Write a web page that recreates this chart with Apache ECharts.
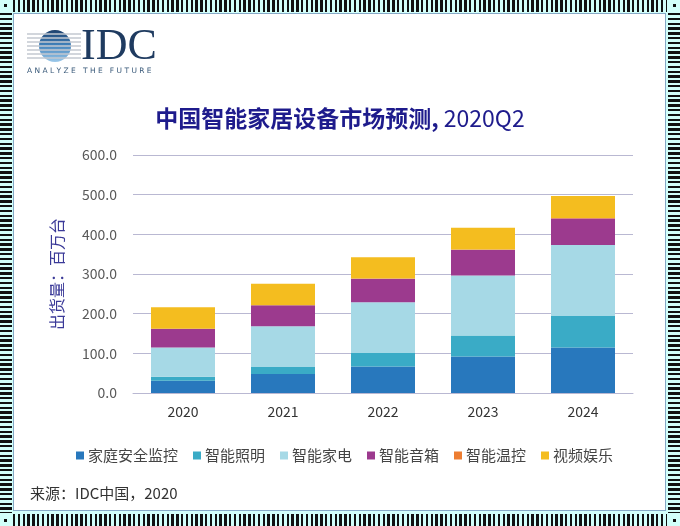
<!DOCTYPE html>
<html>
<head>
<meta charset="utf-8">
<script src="https://cdn.jsdelivr.net/npm/echarts@6/dist/echarts.min.js"></script>
<style>
html,body{margin:0;padding:0;}
#wrap{position:relative;width:680px;height:526px;background:#d2fffa;overflow:hidden;}
.band{position:absolute;}
#top{left:13px;right:13px;top:0;height:12px;background:repeating-linear-gradient(90deg,#111 0 2.3px,#d2fffa 2.3px 4.8px);}
#bottom{left:13px;right:13px;bottom:0;height:12px;background:repeating-linear-gradient(90deg,#111 0 2.3px,#d2fffa 2.3px 4.8px);}
#left{left:0;top:13px;bottom:13px;width:12px;background:repeating-linear-gradient(180deg,#111 0 2.3px,#d2fffa 2.3px 4.8px);}
#right{right:0;top:13px;bottom:13px;width:12px;background:repeating-linear-gradient(180deg,#111 0 2.3px,#d2fffa 2.3px 4.8px);}
.dot{position:absolute;width:3px;height:3px;background:#111;}
#panel{position:absolute;left:13px;top:13px;width:651px;height:496px;border:1px solid #86a9c6;background:#fff;}
#chart{position:absolute;left:0;top:0;width:680px;height:526px;}
</style>
</head>
<body>
<div id="wrap">
  <div class="band" id="top"></div>
  <div class="band" id="bottom"></div>
  <div class="band" id="left"></div>
  <div class="band" id="right"></div>
  <div class="dot" style="left:4px;top:4px"></div>
  <div class="dot" style="right:4px;top:4px"></div>
  <div class="dot" style="left:4px;bottom:4px"></div>
  <div class="dot" style="right:4px;bottom:4px"></div>
  <div id="panel"></div>
  <div id="chart"></div>
</div>
<script>
// ---- data ----
const categories = ['2020', '2021', '2022', '2023', '2024'];
const seriesNames = ['家庭安全监控', '智能照明', '智能家电', '智能音箱', '智能温控', '视频娱乐'];
const security    = [31, 48, 67, 92, 115];
const lighting    = [10, 17.5, 34, 53, 79];
const appliances  = [74, 102.5, 128, 151, 179];
const speakers    = [47, 53, 59, 65, 67];
const thermostat  = [0.2, 0.3, 0.5, 0.7, 0.9];
const video       = [54, 54, 54, 55, 56];
const yTicks = [0, 100, 200, 300, 400, 500, 600];
const titleMain = '中国智能家居设备市场预测,';
const titleSub = '2020Q2';
const yAxisName = '出货量：百万台';
const sourceText = '来源：IDC中国，2020';

const colors = ['#2878bd', '#3aabc6', '#a6d9e6', '#9c3a8e', '#ed7d31', '#f4bd1f'];
const allData = [security, lighting, appliances, speakers, thermostat, video];

const cjk = '"Noto Sans CJK SC", "Noto Sans", sans-serif';

// logo graphics (decorative)
const logo = [];
const cx = 55, cy = 46, r = 16;
logo.push({
  type: 'circle', shape: {cx: cx, cy: cy, r: r},
  style: {fill: new echarts.graphic.LinearGradient(0, 0, 0, 1, [
    {offset: 0, color: '#1d3f6b'}, {offset: 0.45, color: '#3f7fb8'}, {offset: 1, color: '#9cc9ea'}
  ])}
});
[34, 38, 42, 46, 50, 54, 58].forEach(function (y) {
  logo.push({type: 'rect', shape: {x: 27, y: y - 0.7, width: 54, height: 1.4}, style: {fill: '#c3c8d0'}});
});
logo.push({type: 'text', x: 81, y: 47, style: {text: 'IDC', font: '44px "Liberation Serif", "DejaVu Serif", serif', fill: '#1f3b60', verticalAlign: 'middle', align: 'left'}});
logo.push({type: 'text', x: 27, y: 71, style: {text: 'A N A L Y Z E   T H E   F U T U R E', font: '7.5px "DejaVu Sans", sans-serif', fill: '#3a5a7a', verticalAlign: 'middle', align: 'left'}});
logo.push({type: 'text', x: 30, y: 493, style: {text: sourceText, font: '15px ' + cjk, fill: '#333', verticalAlign: 'middle', align: 'left'}});

const chart = echarts.init(document.getElementById('chart'));
chart.setOption({
  animation: false,
  backgroundColor: 'transparent',
  color: colors,
  title: {
    text: '{b|' + titleMain + '} {n|' + titleSub + '}',
    left: 'center',
    top: 102,
    textStyle: {
      rich: {
        b: {fontFamily: cjk, fontSize: 23, fontWeight: 'bold', color: '#1e1b8c'},
        n: {fontFamily: cjk, fontSize: 23, fontWeight: 'normal', color: '#1e1b8c'}
      }
    }
  },
  grid: {left: 133, right: 47, top: 155, bottom: 133, containLabel: false},
  legend: {
    data: seriesNames,
    top: 443,
    left: 71,
    itemWidth: 8,
    itemHeight: 8,
    itemGap: 15,
    icon: 'rect',
    textStyle: {fontFamily: cjk, fontSize: 15, color: '#444', padding: [0, 0, 0, -1]}
  },
  xAxis: {
    type: 'category',
    data: categories,
    axisLine: {show: true, lineStyle: {color: '#b9b8d2', width: 1}},
    axisTick: {show: false},
    axisLabel: {fontFamily: cjk, fontSize: 14, color: '#333', margin: 12}
  },
  yAxis: {
    type: 'value',
    min: yTicks[0],
    max: yTicks[yTicks.length - 1],
    interval: 100,
    name: yAxisName,
    nameLocation: 'middle',
    nameGap: 68,
    nameTextStyle: {fontFamily: cjk, fontSize: 16, color: '#3b3a98'},
    axisLine: {show: false},
    axisTick: {show: false},
    axisLabel: {fontFamily: cjk, fontSize: 14, color: '#595959', margin: 16, formatter: function (v) { return v.toFixed(1); }},
    splitLine: {lineStyle: {color: '#b9b8d2', width: 1}}
  },
  series: seriesNames.map(function (name, i) {
    return {
      name: name,
      type: 'bar',
      stack: 'total',
      barWidth: '64%',
      data: allData[i],
      itemStyle: {color: colors[i]}
    };
  }),
  graphic: logo
});
</script>
</body>
</html>
